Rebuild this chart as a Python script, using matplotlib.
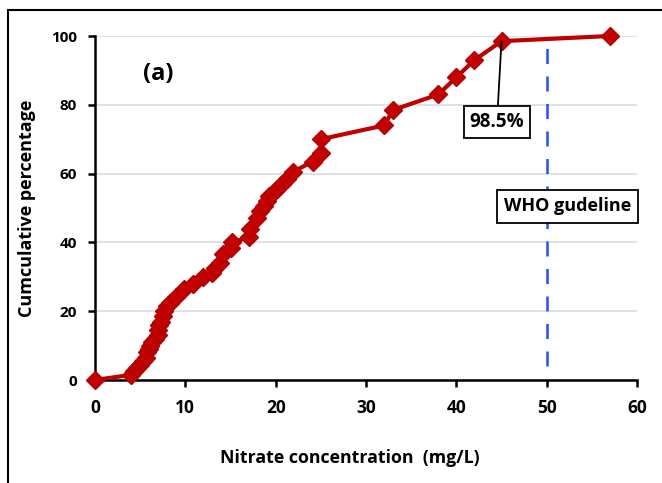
import matplotlib.pyplot as plt
from matplotlib.patches import Rectangle

plt.rcParams['font.family'] = ['Open Sans', 'DejaVu Sans']
plt.rcParams['font.weight'] = 'bold'

# nitrate concentration (mg/L) and cumulative percentage
nitrate = [0, 4, 4.3, 4.6, 5, 5.3, 5.6, 5.8, 6, 6.1, 6.3, 6.6, 7, 7, 7.1, 7.3,
           7.5, 7.6, 8, 8.3, 9, 9.8, 10.9, 12, 13, 13.3, 13.8, 14.2, 15, 15.2,
           17, 17.2, 17.9, 18.3, 18.7, 19, 19.3, 19.7, 20.2, 20.7, 21.2, 21.9,
           24.1, 25, 25, 32, 33, 38, 40, 42, 45, 57]
cum_pct = [0, 1.5, 2.5, 3.5, 4.5, 5.5, 6.5, 8, 9, 10, 11, 12, 13, 14.5, 16, 17,
           18.5, 20, 21.5, 22.5, 24, 26.5, 28, 30, 31, 32.5, 34, 36.5, 38.5, 40,
           41.5, 44, 47, 49, 50.5, 52, 53.5, 54.5, 55.5, 57, 58.5, 60.5,
           63.5, 66, 70, 74, 78.5, 83, 88, 93, 98.5, 100]

who_limit = 50
label_pct = "98.5%"

fig = plt.figure(figsize=(6.62, 4.83), dpi=100)
ax = fig.add_axes([95/662, 1-380/483, (637-95)/662, (380-36)/483])

# outer frame (only left/top visible in the original)
fig.patches.append(Rectangle((8/662, -0.1), 1.2, 1 - 10/483 + 0.1,
                             transform=fig.transFigure, fill=False,
                             edgecolor='black', linewidth=1.5))

ax.plot(nitrate, cum_pct, color='#c00000', lw=3, marker='D', ms=9.5,
        mfc='#c40000', mec='#b00000', mew=1, zorder=3, clip_on=False)

ax.plot([who_limit, who_limit], [4, 98], color='#1f4fff', lw=1.8,
        linestyle=(0, (6, 5)), zorder=2)

ax.set_xlim(0, 60)
ax.set_ylim(0, 100)
ax.set_xticks(range(0, 61, 10))
ax.set_yticks(range(0, 101, 20))
ax.grid(axis='y', color='#d9dce6', lw=1.2)
ax.set_axisbelow(True)
for s in ['top', 'right']:
    ax.spines[s].set_visible(False)
for s in ['left', 'bottom']:
    ax.spines[s].set_linewidth(1.8)
ax.tick_params(direction='out', length=5, width=1.8, pad=8)
ax.tick_params(axis='x', labelsize=12.5, pad=9)
ax.tick_params(axis='y', labelsize=11)

ax.set_xlabel("Nitrate concentration  (mg/L)", fontsize=12.8, fontweight='bold')
ax.xaxis.set_label_coords(0.47, -0.228, transform=ax.transAxes)
ax.xaxis.label.set_va('center')
ax.set_ylabel("Cumculative percentage", fontsize=13, fontweight='bold', labelpad=11)

ax.text(7.0, 89, "(a)", fontsize=17, fontweight='bold', ha='center', va='center')

ax.annotate(label_pct, xy=(45, 98.5), xytext=(44.5, 75), fontsize=13.5,
            fontweight='bold', ha='center', va='center',
            bbox=dict(boxstyle='square,pad=0.3', fc='white', ec='black', lw=1.3),
            arrowprops=dict(arrowstyle='-', color='black', lw=1.3, shrinkA=0, shrinkB=0))

ax.text(52.3, 50.5, "WHO gudeline", fontsize=13, fontweight='bold',
        ha='center', va='center', zorder=4,
        bbox=dict(boxstyle='square,pad=0.4', fc='white', ec='black', lw=1.3))

fig.savefig("out.png", dpi=100)
